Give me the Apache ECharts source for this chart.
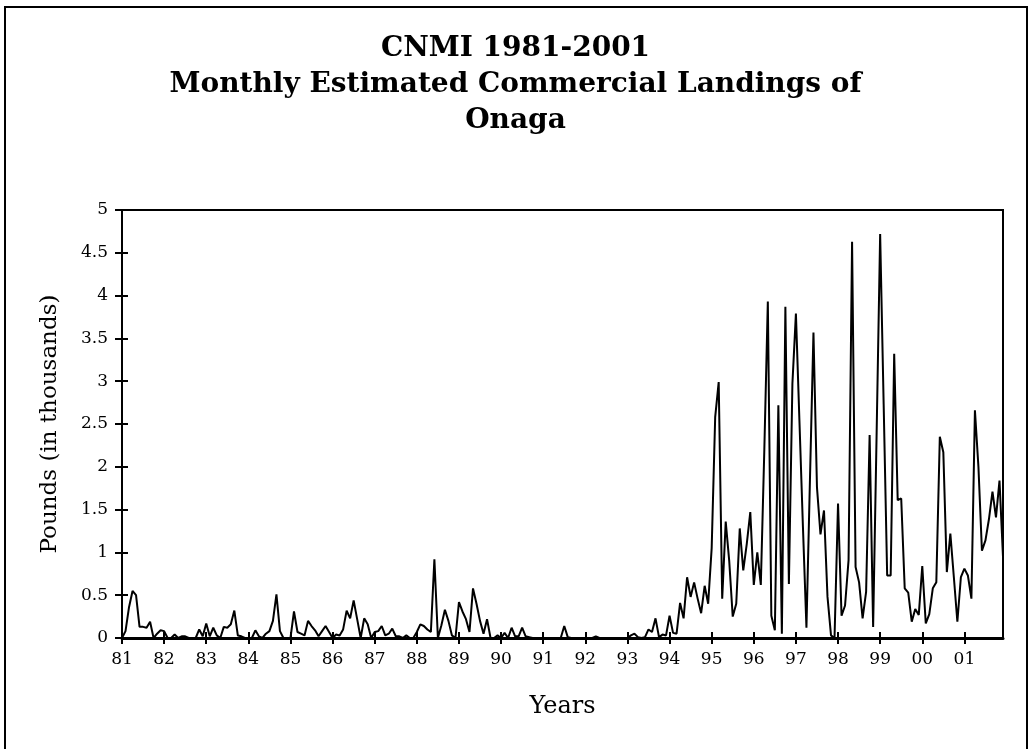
<!DOCTYPE html>
<html>
<head>
<meta charset="utf-8">
<script src="https://cdn.jsdelivr.net/npm/echarts@6/dist/echarts.min.js"></script>
<style>
  html, body { margin: 0; padding: 0; background: #fff; }
  #chart { width: 1031px; height: 749px; }
</style>
</head>
<body>
<div id="chart"></div>
<script>
// year tick labels (one per January)
const yearLabels = ["81", "82", "83", "84", "85", "86", "87", "88", "89", "90", "91",
  "92", "93", "94", "95", "96", "97", "98", "99", "00", "01"];

// monthly landings, thousands of pounds, one array per year (Jan..Dec)
const y1981 = [0, 0.08, 0.36, 0.55, 0.5, 0.13, 0.13, 0.12, 0.19, 0, 0.05, 0.09];
const y1982 = [0.08, 0, 0, 0.04, 0, 0.02, 0.02, 0, 0, 0, 0.1, 0.02];
const y1983 = [0.17, 0.02, 0.12, 0.03, 0, 0.13, 0.12, 0.16, 0.32, 0.03, 0.02, 0];
const y1984 = [0, 0, 0.09, 0.02, 0, 0.05, 0.08, 0.2, 0.51, 0.08, 0, 0];
const y1985 = [0, 0.31, 0.07, 0.05, 0.03, 0.2, 0.14, 0.09, 0.02, 0.08, 0.14, 0.07];
const y1986 = [0, 0.04, 0.03, 0.1, 0.32, 0.23, 0.44, 0.22, 0, 0.23, 0.16, 0];
const y1987 = [0.07, 0.08, 0.14, 0.03, 0.05, 0.11, 0.02, 0.02, 0, 0.03, 0, 0];
const y1988 = [0.07, 0.16, 0.14, 0.1, 0.07, 0.92, 0, 0.15, 0.33, 0.2, 0.03, 0];
const y1989 = [0.42, 0.31, 0.22, 0.07, 0.58, 0.4, 0.2, 0.05, 0.22, 0, 0, 0.03];
const y1990 = [0, 0.06, 0, 0.12, 0.02, 0.02, 0.12, 0.02, 0.01, 0, 0, 0];
const y1991 = [0, 0, 0, 0, 0, 0, 0.14, 0.01, 0, 0, 0, 0];
const y1992 = [0, 0, 0, 0.02, 0, 0, 0, 0, 0, 0, 0, 0];
const y1993 = [0, 0.03, 0.05, 0.01, 0, 0.01, 0.1, 0.07, 0.23, 0.01, 0.04, 0.03];
const y1994 = [0.26, 0.06, 0.05, 0.41, 0.23, 0.71, 0.48, 0.65, 0.46, 0.29, 0.61, 0.4];
const y1995 = [1.05, 2.58, 2.99, 0.46, 1.36, 0.9, 0.25, 0.4, 1.28, 0.79, 1.1, 1.47];
const y1996 = [0.62, 1.0, 0.62, 2.2, 3.93, 0.26, 0.09, 2.72, 0.05, 3.87, 0.63, 2.97];
const y1997 = [3.79, 2.54, 1.3, 0.12, 1.85, 3.57, 1.76, 1.21, 1.49, 0.48, 0.03, 0];
const y1998 = [1.57, 0.26, 0.38, 0.91, 4.63, 0.83, 0.65, 0.23, 0.54, 2.37, 0.13, 2.4];
const y1999 = [4.72, 2.73, 0.73, 0.73, 3.32, 1.61, 1.63, 0.58, 0.53, 0.19, 0.34, 0.27];
const y2000 = [0.84, 0.17, 0.28, 0.58, 0.65, 2.35, 2.17, 0.77, 1.22, 0.71, 0.19, 0.71];
const y2001 = [0.81, 0.73, 0.46, 2.66, 2.0, 1.02, 1.14, 1.39, 1.71, 1.41, 1.84, 0.95];

const years = [y1981, y1982, y1983, y1984, y1985, y1986, y1987, y1988, y1989, y1990,
  y1991, y1992, y1993, y1994, y1995, y1996, y1997, y1998, y1999, y2000, y2001];

// flatten to one monthly series, category = year label of that month
let landings = [];
let months = [];
years.forEach((yr, yi) => {
  yr.forEach((v) => {
    landings.push(v);
    months.push(yearLabels[yi]);
  });
});

const onJan = (idx) => idx % 12 === 0;
const serif = "DejaVu Serif";

var chartDom = document.getElementById("chart");
var myChart = echarts.init(chartDom, null, { renderer: "canvas" });

var option = {
  backgroundColor: "#fff",
  animation: false,
  title: {
    text: "CNMI 1981-2001\nMonthly Estimated Commercial Landings of\nOnaga",
    left: "center",
    top: 26,
    textStyle: {
      fontFamily: serif,
      fontWeight: "bold",
      fontSize: 28,
      lineHeight: 36,
      color: "#000",
    },
  },
  graphic: [
    {
      // outer chart frame
      type: "rect",
      shape: { x: 5, y: 7, width: 1022, height: 760 },
      style: { fill: null, stroke: "#000", lineWidth: 2 },
      silent: true,
    },
  ],
  grid: {
    left: 122,
    right: 28,
    top: 210,
    bottom: 111,
    show: true,
    borderColor: "#000",
    borderWidth: 2,
  },
  xAxis: [
    {
      type: "category",
      data: months,
      boundaryGap: false,
      name: "Years",
      nameLocation: "middle",
      nameGap: 57,
      nameTextStyle: { fontFamily: serif, fontSize: 24, color: "#000" },
      axisLine: { lineStyle: { color: "#000", width: 3 } },
      axisTick: { interval: onJan, length: 6, lineStyle: { color: "#000", width: 2 } },
      axisLabel: {
        interval: onJan,
        margin: 13,
        fontFamily: serif,
        fontSize: 17,
        color: "#000",
      },
      splitLine: { show: false },
    },
    {
      // inner half of the crossing tick marks
      type: "category",
      data: months,
      boundaryGap: false,
      position: "bottom",
      axisLine: { show: false },
      axisTick: { inside: true, interval: onJan, length: 6, lineStyle: { color: "#000", width: 2 } },
      axisLabel: { show: false },
      splitLine: { show: false },
    },
  ],
  yAxis: [
    {
      type: "value",
      min: 0,
      max: 5,
      interval: 0.5,
      name: "Pounds (in thousands)",
      nameLocation: "middle",
      nameGap: 60,
      nameTextStyle: { fontFamily: serif, fontSize: 23, color: "#000" },
      axisLine: { show: true, lineStyle: { color: "#000", width: 2 } },
      axisTick: { show: true, length: 7, lineStyle: { color: "#000", width: 2 } },
      axisLabel: { margin: 14, fontFamily: serif, fontSize: 17, color: "#000" },
      splitLine: { show: false },
    },
    {
      type: "value",
      min: 0,
      max: 5,
      interval: 0.5,
      position: "left",
      axisLine: { show: false },
      axisTick: { show: true, inside: true, length: 6, lineStyle: { color: "#000", width: 2 } },
      axisLabel: { show: false },
      splitLine: { show: false },
    },
  ],
  series: [
    {
      name: "Onaga",
      type: "line",
      data: landings,
      showSymbol: false,
      lineStyle: { color: "#000", width: 2 },
      itemStyle: { color: "#000" },
    },
  ],
};

option && myChart.setOption(option);
</script>
</body>
</html>
